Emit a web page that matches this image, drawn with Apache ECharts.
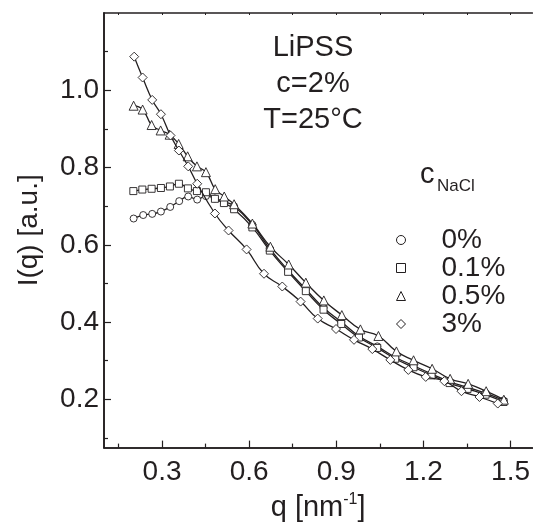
<!DOCTYPE html>
<html>
<head>
<meta charset="utf-8">
<script src="https://cdn.jsdelivr.net/npm/echarts@6/dist/echarts.min.js"></script>
<style>html,body{margin:0;padding:0;background:#fff}#c{width:533px;height:527px}</style>
</head>
<body>
<div id="c"></div>
<script>
// ---- data ----
const seriesNames = ['0%', '0.1%', '0.5%', '3%'];
const q0   = [0.202,0.235,0.266,0.296,0.328,0.359,0.390,0.421,0.451,0.482,0.513,0.548,0.611,0.671,0.734,0.795,0.856,0.917,0.978,1.041,1.103,1.166,1.228,1.290,1.352,1.414,1.476];
const I0   = [0.668,0.677,0.680,0.686,0.698,0.713,0.725,0.717,0.726,0.720,0.712,0.700,0.652,0.590,0.534,0.485,0.437,0.401,0.364,0.337,0.309,0.287,0.266,0.246,0.231,0.216,0.197];
const q01  = [0.201,0.232,0.264,0.296,0.327,0.358,0.389,0.420,0.451,0.482,0.513,0.548,0.611,0.671,0.734,0.795,0.856,0.917,0.978,1.041,1.103,1.166,1.228,1.290,1.352,1.414,1.476];
const I01  = [0.739,0.743,0.745,0.747,0.751,0.758,0.746,0.739,0.736,0.719,0.708,0.692,0.645,0.585,0.530,0.480,0.432,0.395,0.360,0.333,0.305,0.283,0.262,0.242,0.227,0.212,0.193];
const q05  = [0.202,0.233,0.264,0.295,0.326,0.357,0.388,0.420,0.451,0.483,0.514,0.548,0.611,0.673,0.736,0.795,0.857,0.919,0.983,1.045,1.107,1.166,1.230,1.292,1.354,1.416,1.477];
const I05  = [0.960,0.950,0.910,0.896,0.885,0.861,0.829,0.803,0.788,0.744,0.725,0.705,0.655,0.595,0.549,0.502,0.456,0.418,0.381,0.364,0.324,0.301,0.279,0.253,0.240,0.221,0.199];
const q3   = [0.204,0.233,0.266,0.296,0.329,0.358,0.390,0.421,0.482,0.529,0.591,0.651,0.714,0.777,0.836,0.899,0.961,1.024,1.086,1.148,1.208,1.272,1.331,1.393,1.456];
const I3   = [1.087,1.033,0.975,0.938,0.883,0.844,0.803,0.758,0.681,0.637,0.588,0.525,0.492,0.453,0.409,0.382,0.354,0.330,0.302,0.276,0.258,0.247,0.221,0.206,0.189];
const xLabelValues = [0.3, 0.6, 0.9, 1.2, 1.5];
const xMinorValues = [0.15, 0.45, 0.75, 1.05, 1.35];
const yLabelValues = [0.2, 0.4, 0.6, 0.8, 1.0];
const yMinorValues = [0.1, 0.3, 0.5, 0.7, 0.9, 1.1];
const titleLines = ['LiPSS', 'c=2%', 'T=25°C'];

// ---- chart ----
const INK = '#231f20';
const FONT = "'Liberation Sans', Arial, sans-serif";
const zip = (a, b) => a.map((v, i) => [v, b[i]]);
const sets = [[q0, I0, 'circle', 7], [q01, I01, 'rect', 7], [q05, I05, 'triangle', 9], [q3, I3, 'diamond', 9]];

const chart = echarts.init(document.getElementById('c'), null, {renderer: 'canvas'});
const baseX = {type: 'value', min: 0.1, max: 1.575, splitLine: {show: false},
  axisLine: {lineStyle: {color: INK, width: 1.6}}};
const baseY = {type: 'value', min: 0.075, max: 1.2, splitLine: {show: false},
  axisLine: {lineStyle: {color: INK, width: 1.6}}};

chart.setOption({
  animation: false,
  backgroundColor: '#fff',
  grid: {left: 104, right: 0, top: 13, bottom: 77},
  xAxis: [
    Object.assign({}, baseX, {position: 'bottom',
      name: 'q [nm{sup|-1}]', nameLocation: 'middle', nameGap: 42,
      nameTextStyle: {color: INK, fontSize: 29, fontFamily: FONT,
        rich: {sup: {fontSize: 16, verticalAlign: 'top', lineHeight: 32, color: INK, fontFamily: FONT}}},
      axisTick: {inside: true, length: 7, lineStyle: {color: INK, width: 1.2}, customValues: xLabelValues},
      axisLabel: {color: INK, fontSize: 28, fontFamily: FONT, margin: 11, customValues: xLabelValues,
        formatter: v => v.toFixed(1)}}),
    Object.assign({}, baseX, {position: 'bottom',
      axisTick: {inside: true, length: 4, lineStyle: {color: INK, width: 1.2}, customValues: xMinorValues},
      axisLabel: {show: false}}),
    Object.assign({}, baseX, {position: 'top',
      axisTick: {inside: true, length: 2, lineStyle: {color: INK, width: 1}, customValues: xLabelValues.concat(xMinorValues)},
      axisLabel: {show: false}})
  ],
  yAxis: [
    Object.assign({}, baseY, {position: 'left',
      name: 'I(q) [a.u.]', nameLocation: 'middle', nameGap: 61,
      nameTextStyle: {color: INK, fontSize: 28, fontFamily: FONT},
      axisTick: {inside: true, length: 7, lineStyle: {color: INK, width: 1.2}, customValues: yLabelValues},
      axisLabel: {color: INK, fontSize: 28, fontFamily: FONT, margin: 5, customValues: yLabelValues,
        formatter: v => v.toFixed(1)}}),
    Object.assign({}, baseY, {position: 'left',
      axisTick: {inside: true, length: 4, lineStyle: {color: INK, width: 1.2}, customValues: yMinorValues},
      axisLabel: {show: false}})
  ],
  legend: {
    orient: 'vertical', left: 391, top: 221, itemGap: 0,
    itemWidth: 9, itemHeight: 9,
    data: seriesNames.map((n, i) => ({name: n, icon: sets[i][2]})),
    itemStyle: {color: '#fff', borderColor: INK, borderWidth: 1},
    textStyle: {color: INK, fontSize: 28, fontFamily: FONT, lineHeight: 27.5, padding: [0, 0, 0, 31]}
  },
  series: sets.map((s, i) => ({
    name: seriesNames[i], type: 'line', data: zip(s[0], s[1]),
    smooth: 0.5, symbol: s[2], symbolSize: s[3], showSymbol: true,
    lineStyle: {color: INK, width: 1.3},
    itemStyle: {color: '#fff', borderColor: INK, borderWidth: 0.9},
    z: 2 + i
  })),
  graphic: [
    {type: 'text', x: 313, y: 30, style: {text: titleLines.join('\n'), textAlign: 'center',
      fill: INK, fontSize: 29, fontFamily: FONT, lineHeight: 36}},
    {type: 'text', x: 420, y: 189, style: {text: 'c', textVerticalAlign: 'bottom', fill: INK, fontSize: 29, fontFamily: FONT}},
    {type: 'text', x: 437, y: 195, style: {text: 'NaCl', textVerticalAlign: 'bottom', fill: INK, fontSize: 17, fontFamily: FONT}}
  ]
});
</script>
</body>
</html>
